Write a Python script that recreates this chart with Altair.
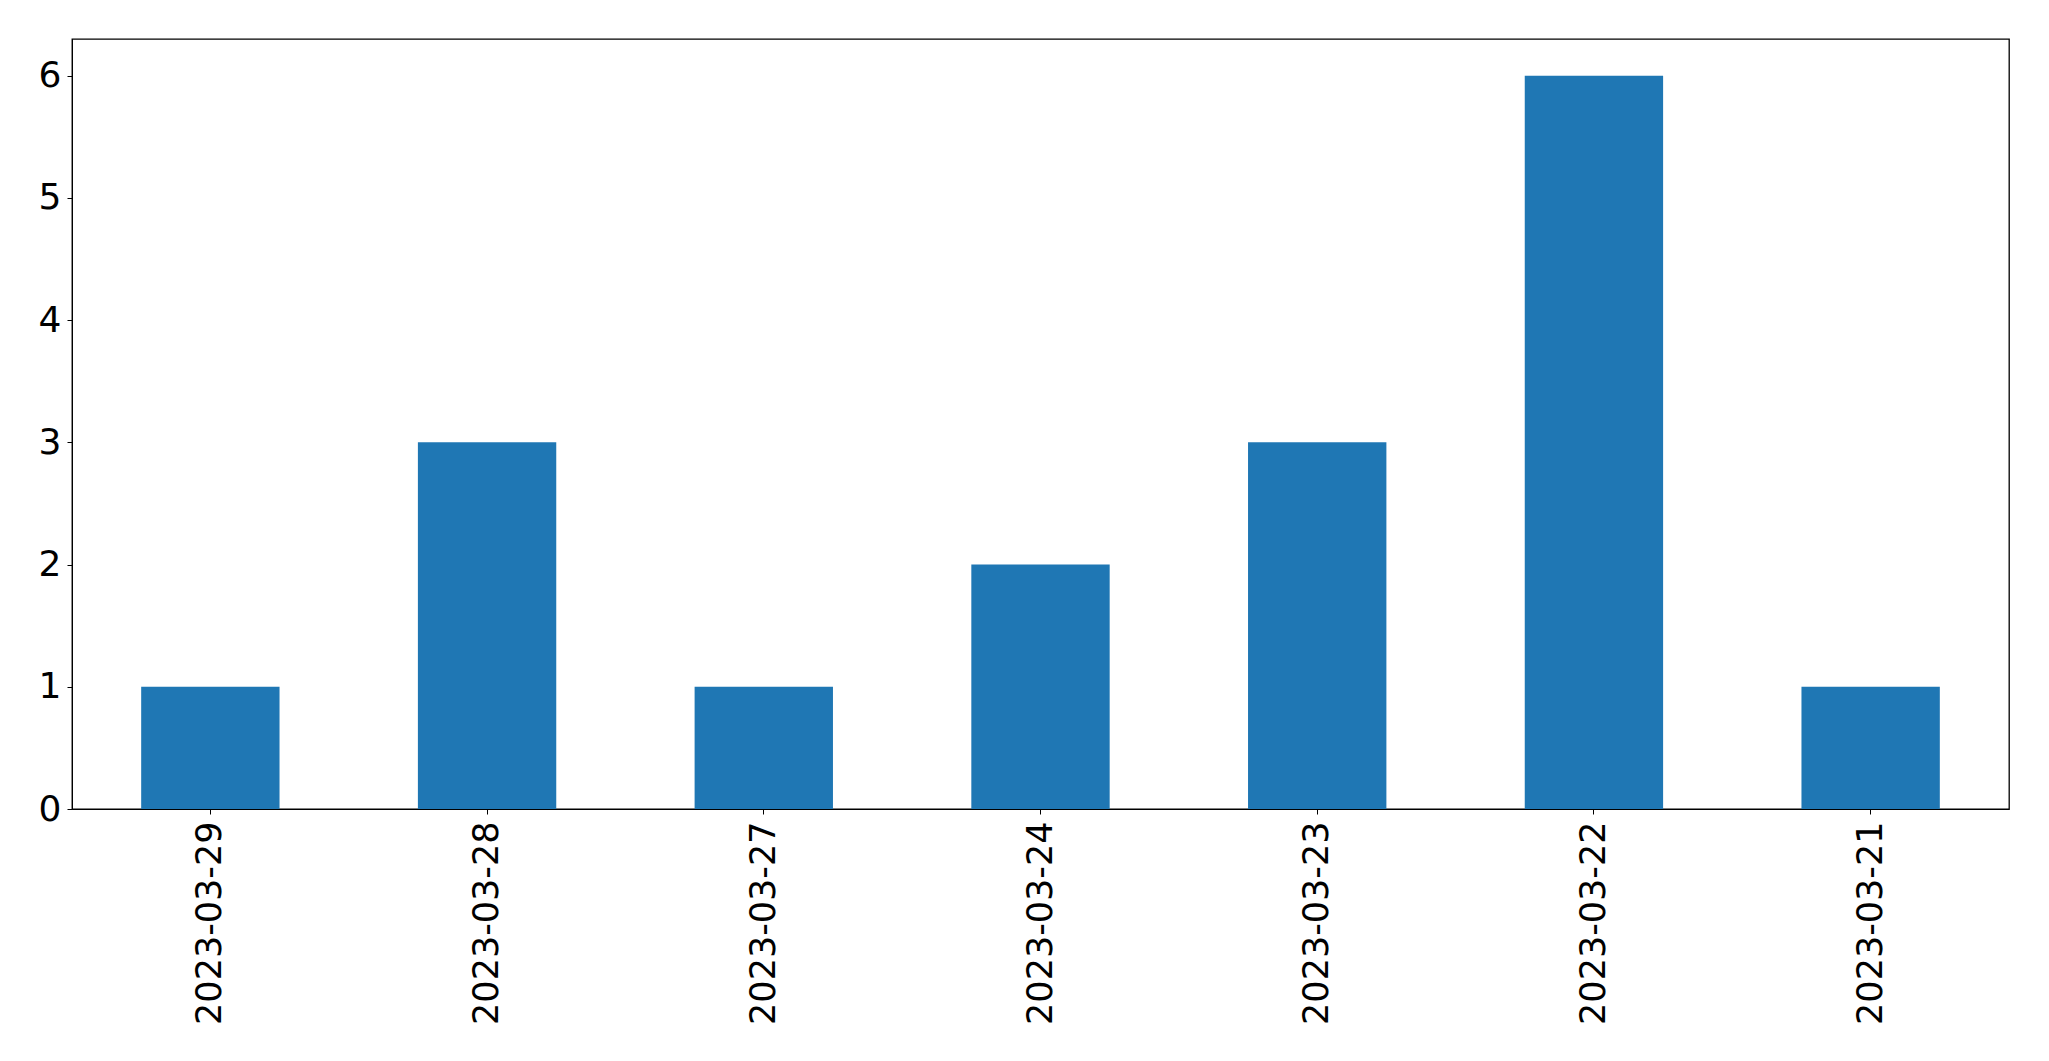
import altair as alt
import pandas as pd

dates = ["2023-03-29", "2023-03-28", "2023-03-27", "2023-03-24", "2023-03-23", "2023-03-22", "2023-03-21"]
counts = [1, 3, 1, 2, 3, 6, 1]

df = pd.DataFrame({"date": dates, "count": counts})

chart = alt.Chart(df).mark_bar(color="#1f77b4").encode(
    x=alt.X("date:N", sort=dates, title=None,
            scale=alt.Scale(paddingInner=0.5, paddingOuter=0.25),
            axis=alt.Axis(labelAngle=270, labelFontSize=35, labelFont="DejaVu Sans",
                          labelColor="black", tickColor="black", domainColor="black",
                          tickSize=5, labelPadding=7, labelLimit=0, grid=False)),
    y=alt.Y("count:Q", title=None,
            scale=alt.Scale(domain=[0, 6.3], nice=False),
            axis=alt.Axis(values=[0, 1, 2, 3, 4, 5, 6], format="d", labelFontSize=36,
                          labelFont="DejaVu Sans", labelColor="black", tickColor="black",
                          domainColor="black", tickSize=5, labelPadding=6, grid=False)),
).properties(
    width=1937, height=770,
    autosize=alt.AutoSizeParams(type="none"),
    padding={"left": 64, "top": 31, "right": 30, "bottom": 230},
).configure_view(stroke="black", strokeWidth=1.3)

chart.save("out.html", embed_options={"renderer": "svg", "actions": False})
